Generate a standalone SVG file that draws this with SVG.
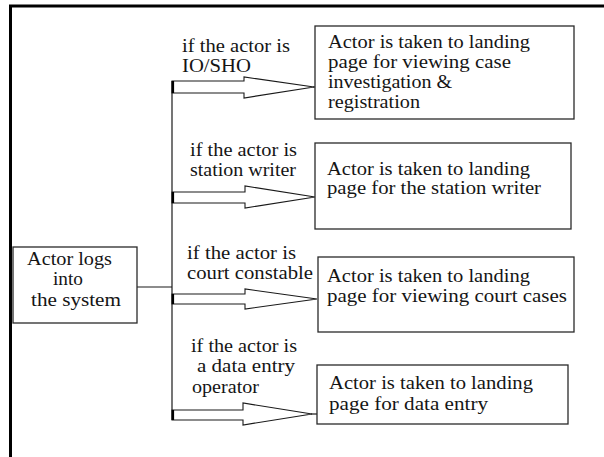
<svg xmlns="http://www.w3.org/2000/svg" width="604" height="457" viewBox="0 0 604 457">
  <style>
    .frame { stroke: #000; stroke-width: 3; fill: none; }
    .box { fill: #fff; stroke: #2a2a2a; stroke-width: 1.3; }
    .line { stroke: #1a1a1a; stroke-width: 1.2; fill: none; }
    .stub { stroke: #000; stroke-width: 2.2; }
    .arrow { fill: #fff; stroke: #1a1a1a; stroke-width: 1.1; stroke-linejoin: miter; }
    text { font-family: "Liberation Serif", "Times New Roman", serif; font-size: 18px; fill: #151515; }
  </style>
  <rect width="604" height="457" fill="#fff"/>

  <!-- page frame: top and left edges -->
  <path class="frame" d="M10.5,457 V6 H604"/>

  <!-- connectors: trunk, feed line and block arrows -->
  <g id="connectors">
    <line class="line" x1="137" y1="287" x2="172" y2="287"/>
    <line class="line" x1="172" y1="81" x2="172" y2="420"/>

    <polygon class="arrow" points="172,81 244,81 244,77 314,87 244,98 244,93 172,93"/>
    <line class="stub" x1="173" y1="81" x2="173" y2="93"/>
    <line class="line" x1="313" y1="87" x2="316" y2="87"/>

    <polygon class="arrow" points="172,192 245,192 245,186 315,197 245,208 245,203 172,203"/>
    <line class="stub" x1="173" y1="192" x2="173" y2="203"/>

    <polygon class="arrow" points="172,294 245,294 245,289 317,299 245,309 245,304 172,304"/>
    <line class="stub" x1="173" y1="294" x2="173" y2="304"/>

    <polygon class="arrow" points="172,410 243,410 243,403 312,414 243,425 243,420 172,420"/>
    <line class="stub" x1="173" y1="410" x2="173" y2="420"/>
    <line class="line" x1="311" y1="414" x2="317" y2="414"/>
  </g>

  <!-- branch conditions -->
  <g id="labels">
    <text x="182" y="52" textLength="108" lengthAdjust="spacingAndGlyphs">if the actor is</text>
    <text x="182" y="72" textLength="69" lengthAdjust="spacingAndGlyphs">IO/SHO</text>

    <text x="190" y="156" textLength="107" lengthAdjust="spacingAndGlyphs">if the actor is</text>
    <text x="190" y="176" textLength="106" lengthAdjust="spacingAndGlyphs">station writer</text>

    <text x="187" y="259" textLength="109" lengthAdjust="spacingAndGlyphs">if the actor is</text>
    <text x="187" y="279" textLength="126" lengthAdjust="spacingAndGlyphs">court constable</text>

    <text x="191" y="352" textLength="106" lengthAdjust="spacingAndGlyphs">if the actor is</text>
    <text x="197" y="372" textLength="98" lengthAdjust="spacingAndGlyphs">a data entry</text>
    <text x="192" y="393" textLength="67" lengthAdjust="spacingAndGlyphs">operator</text>
  </g>

  <g id="login">
    <rect class="box" x="13" y="247" width="124" height="76"/>
    <text x="27" y="265" textLength="85" lengthAdjust="spacingAndGlyphs">Actor logs</text>
    <text x="53" y="285" textLength="30" lengthAdjust="spacingAndGlyphs">into</text>
    <text x="31" y="306" textLength="90" lengthAdjust="spacingAndGlyphs">the system</text>
  </g>

  <g id="io-sho">
    <rect class="box" x="315" y="26" width="259" height="93"/>
    <text x="328" y="48" textLength="202" lengthAdjust="spacingAndGlyphs">Actor is taken to landing</text>
    <text x="328" y="68" textLength="183" lengthAdjust="spacingAndGlyphs">page for viewing case</text>
    <text x="328" y="88" textLength="124" lengthAdjust="spacingAndGlyphs">investigation &amp;</text>
    <text x="328" y="108" textLength="92" lengthAdjust="spacingAndGlyphs">registration</text>
  </g>

  <g id="station-writer">
    <rect class="box" x="315" y="143" width="256" height="86"/>
    <text x="327" y="175" textLength="203" lengthAdjust="spacingAndGlyphs">Actor is taken to landing</text>
    <text x="327" y="194" textLength="214" lengthAdjust="spacingAndGlyphs">page for the station writer</text>
  </g>

  <g id="court-constable">
    <rect class="box" x="318" y="257" width="256" height="75"/>
    <text x="327" y="282" textLength="203" lengthAdjust="spacingAndGlyphs">Actor is taken to landing</text>
    <text x="327" y="302" textLength="240" lengthAdjust="spacingAndGlyphs">page for viewing court cases</text>
  </g>

  <g id="data-entry">
    <rect class="box" x="317" y="365" width="251" height="59"/>
    <text x="329" y="389" textLength="204" lengthAdjust="spacingAndGlyphs">Actor is taken to landing</text>
    <text x="329" y="410" textLength="159" lengthAdjust="spacingAndGlyphs">page for data entry</text>
  </g>
</svg>
